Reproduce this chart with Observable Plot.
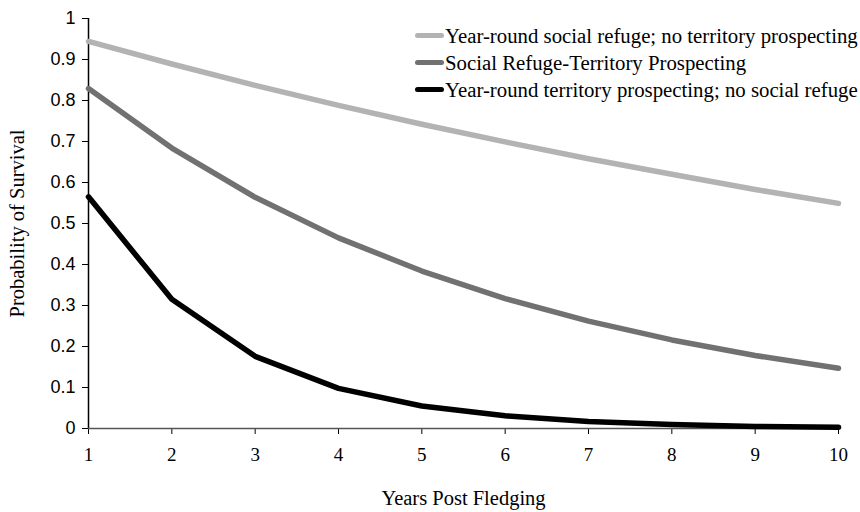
<!DOCTYPE html>
<html>
<head>
<meta charset="utf-8">
<script src="https://cdn.jsdelivr.net/npm/d3@7"></script>
<script src="https://cdn.jsdelivr.net/npm/@observablehq/plot@0.6"></script>
<style>
  body { margin: 0; background: #fff; }
  #wrap { position: relative; width: 860px; height: 512px; }
  #legend { position: absolute; left: 415px; top: 22px; font-family: "Liberation Serif", "Times New Roman", serif; font-size: 20.8px; color: #000; }
  .row { display: flex; align-items: center; height: 27px; white-space: nowrap; }
  .sw { width: 29px; height: 5px; border-radius: 3px; margin-right: 1px; }
</style>
</head>
<body>
<div id="wrap"><div id="legend"></div></div>
<script>
const years = [1, 2, 3, 4, 5, 6, 7, 8, 9, 10];
const seriesNames = [
  "Year-round social refuge; no territory prospecting",
  "Social Refuge-Territory Prospecting",
  "Year-round territory prospecting; no social refuge"
];
const socialRefuge = [0.944, 0.889, 0.837, 0.788, 0.742, 0.699, 0.658, 0.620, 0.583, 0.549];
const refugeProspecting = [0.829, 0.684, 0.564, 0.465, 0.384, 0.317, 0.262, 0.216, 0.178, 0.147];
const territoryProspecting = [0.565, 0.315, 0.176, 0.098, 0.055, 0.031, 0.017, 0.010, 0.005, 0.003];
const colors = ["#b3b3b3", "#717171", "#000000"];
const yTicks = [0, 0.1, 0.2, 0.3, 0.4, 0.5, 0.6, 0.7, 0.8, 0.9, 1];

const allSeries = [socialRefuge, refugeProspecting, territoryProspecting];
const data = [];
allSeries.forEach((vals, i) => vals.forEach((v, j) => data.push({series: seriesNames[i], year: years[j], value: v})));

const serif = "'Liberation Serif', 'Times New Roman', serif";
const sans = "'Liberation Sans', Arial, sans-serif";

const chart = Plot.plot({
  width: 860,
  height: 512,
  marginLeft: 88,
  marginRight: 22,
  marginTop: 18,
  marginBottom: 84,
  style: {fontFamily: serif, background: "#fff", color: "#000"},
  x: {domain: [1, 10], ticks: years},
  y: {domain: [0, 1], ticks: yTicks},
  color: {domain: seriesNames, range: colors},
  marks: [
    Plot.axisY({ticks: yTicks, tickSize: 6, tickPadding: 7, fontSize: 18, fontFamily: sans, tickFormat: d => String(+d.toFixed(1)), label: null, stroke: "#000"}),
    Plot.axisY({ticks: [], tickSize: 0, label: "Probability of Survival", labelAnchor: "center", labelArrow: "none", labelOffset: 79, fontSize: 20.5, fontFamily: serif}),
    Plot.axisX({ticks: years, tickSize: 6, tickPadding: 13, fontSize: 19, fontFamily: serif, tickFormat: d => String(d), label: "Years Post Fledging", labelAnchor: "center", labelArrow: "none", labelOffset: 76, stroke: "#000"}),
    Plot.ruleX([1], {stroke: "#000", strokeWidth: 1.5}),
    Plot.ruleY([0], {stroke: "#555", strokeWidth: 1.5}),
    Plot.line(data, {x: "year", y: "value", z: "series", stroke: "series", strokeWidth: 5.5, curve: "linear"})
  ]
});
chart.querySelectorAll("g[aria-label='x-axis label'], g[aria-label='y-axis label']").forEach(g => {
  g.setAttribute("font-size", 20.5);
  g.setAttribute("font-family", serif);
});
document.getElementById("wrap").prepend(chart);

const legend = document.getElementById("legend");
seriesNames.forEach((name, i) => {
  const row = document.createElement("div");
  row.className = "row";
  const sw = document.createElement("span");
  sw.className = "sw";
  sw.style.background = colors[i];
  const label = document.createElement("span");
  label.textContent = name;
  row.append(sw, label);
  legend.append(row);
});
</script>
</body>
</html>
